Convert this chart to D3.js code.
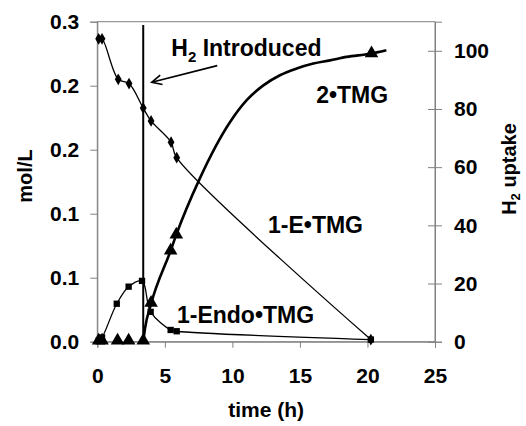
<!DOCTYPE html>
<html>
<head>
<meta charset="utf-8">
<script src="https://cdn.jsdelivr.net/npm/d3@7"></script>
<style>
  body { margin: 0; background: #fff; }
  text { font-family: "Liberation Sans", Arial, sans-serif; font-weight: bold; fill: #000; }
</style>
</head>
<body>
<svg id="chart" width="526" height="426"></svg>
<script>
// 1-E•TMG (diamonds, left axis)
const eTime = [0.1, 0.35, 1.55, 2.35, 3.4, 3.98, 5.46, 5.88, 20.25];
const eConc = [0.284, 0.284, 0.246, 0.242, 0.219, 0.207, 0.187, 0.1725, 0.002];

// 1-Endo•TMG (squares, left axis)
const endoTime = [0.1, 0.35, 1.44, 2.32, 3.31, 3.95, 5.43, 5.88, 20.25];
const endoConc = [0.001, 0.004, 0.0356, 0.0516, 0.057, 0.028, 0.011, 0.0098, 0.002];

// 2•TMG (triangles, right axis)
const tmgTime = [0.1, 0.35, 1.5, 2.32, 3.4, 3.98, 5.43, 5.85, 20.3];
const tmgUptake = [0, 0, 0, 0, 0, 13, 31, 36.5, 98.8];

// continuous H2 uptake trace (right axis)
const uptakeTime = [3.4, 3.55, 3.98, 5.43, 5.85, 7.55, 9.83, 11.06, 12.29, 13.52, 14.76, 15.99, 17.22, 18.46, 20.2, 21.4];
const uptakeVal = [0, 5, 13, 31.3, 36.8, 55.7, 75.5, 83, 88.1, 91.6, 93.9, 95.6, 96.7, 97.9, 99, 100.2];

const xTicks = [0, 5, 10, 15, 20, 25];
const yLeftTicks = [0, 0.06, 0.12, 0.18, 0.24, 0.3];
const yRightTicks = [0, 20, 40, 60, 80, 100];

const h2Time = 3.4;

const svg = d3.select('#chart');
const margin = { top: 21.7, right: 91, bottom: 84.3, left: 97.3 };
const W = 526, H = 426;

const x = d3.scaleLinear().domain([0, 25]).range([margin.left, W - margin.right]);
const yL = d3.scaleLinear().domain([0, 0.3]).range([H - margin.bottom, margin.top]);
const yR = d3.scaleLinear().domain([0, 110]).range([H - margin.bottom, margin.top]);

const grey = '#808080';

// frame
svg.append('rect')
  .attr('x', x(0)).attr('y', yL(0.3))
  .attr('width', x(25) - x(0)).attr('height', yL(0) - yL(0.3))
  .attr('fill', 'none').attr('stroke', grey).attr('stroke-width', 1);

function styleAxis(g) {
  g.select('.domain').attr('stroke', grey);
  g.selectAll('.tick line').attr('stroke', grey);
  g.selectAll('.tick text')
    .attr('font-size', 21)
    .attr('font-family', '"Liberation Sans", Arial, sans-serif')
    .attr('font-weight', 'bold')
    .attr('fill', '#000');
}

svg.append('g')
  .attr('transform', `translate(0,${yL(0)})`)
  .call(d3.axisBottom(x).tickValues(xTicks).tickSizeOuter(0).tickSize(6).tickPadding(20))
  .call(styleAxis);

svg.append('g')
  .attr('transform', `translate(${x(0)},0)`)
  .call(d3.axisLeft(yL).tickValues(yLeftTicks).tickFormat(d3.format('.1f')).tickSizeOuter(0).tickSize(7).tickPadding(11))
  .call(styleAxis);

const rAxis = svg.append('g')
  .attr('transform', `translate(${x(25)},0)`)
  .call(d3.axisRight(yR).tickValues(yRightTicks).tickSizeOuter(0).tickSize(7).tickPadding(12))
  .call(styleAxis);
rAxis.selectAll('.tick line').attr('x1', -7);

// axis titles
svg.append('text')
  .attr('x', (x(0) + x(25)) / 2 + 0).attr('y', 417)
  .attr('text-anchor', 'middle').attr('font-size', 21)
  .text('time (h)');

svg.append('text')
  .attr('transform', `translate(32,176) rotate(-90)`)
  .attr('text-anchor', 'middle').attr('font-size', 20)
  .text('mol/L');

const rt = svg.append('text')
  .attr('transform', `translate(516,169) rotate(-90)`)
  .attr('text-anchor', 'middle').attr('font-size', 20);
rt.append('tspan').text('H');
rt.append('tspan').attr('font-size', 13).attr('dy', 4).text('2');
rt.append('tspan').attr('dy', -4).text(' uptake');

// H2 introduced vertical line
svg.append('line')
  .attr('x1', x(h2Time)).attr('x2', x(h2Time))
  .attr('y1', yL(0)).attr('y2', yL(0.297))
  .attr('stroke', '#000').attr('stroke-width', 2);

// series lines
const smooth = d3.curveCatmullRom.alpha(0.5);

const lineE = d3.line().x(d => x(d[0])).y(d => yL(d[1])).curve(smooth);
svg.append('path')
  .datum(d3.zip(eTime, eConc))
  .attr('d', lineE).attr('fill', 'none').attr('stroke', '#000').attr('stroke-width', 1.3);

svg.append('path')
  .datum(d3.zip(endoTime, endoConc))
  .attr('d', lineE).attr('fill', 'none').attr('stroke', '#000').attr('stroke-width', 1.3);

const lineU = d3.line().x(d => x(d[0])).y(d => yR(d[1])).curve(d3.curveMonotoneX);
svg.append('path')
  .datum(d3.zip(uptakeTime, uptakeVal))
  .attr('d', lineU).attr('fill', 'none').attr('stroke', '#000').attr('stroke-width', 2.6);

// markers
const diamond = d3.symbol().type(d3.symbolDiamond).size(40);
svg.append('g').selectAll('path')
  .data(d3.zip(eTime, eConc)).join('path')
  .attr('d', diamond)
  .attr('transform', d => `translate(${x(d[0])},${yL(d[1])})`)
  .attr('fill', '#000');

const square = d3.symbol().type(d3.symbolSquare).size(40);
svg.append('g').selectAll('path')
  .data(d3.zip(endoTime, endoConc)).join('path')
  .attr('d', square)
  .attr('transform', d => `translate(${x(d[0])},${yL(d[1])})`)
  .attr('fill', '#000');

const tri = d3.symbol().type(d3.symbolTriangle).size(80);
svg.append('g').selectAll('path')
  .data(d3.zip(tmgTime, tmgUptake)).join('path')
  .attr('d', tri)
  .attr('transform', d => `translate(${x(d[0])},${yR(d[1]) - 1})`)
  .attr('fill', '#000');

// annotations
const ann = svg.append('text')
  .attr('x', x(5.48)).attr('y', yL(0.2683)).attr('font-size', 23);
ann.append('tspan').text('H');
ann.append('tspan').attr('font-size', 15).attr('dy', 6).text('2');
ann.append('tspan').attr('dy', -6).text(' Introduced');

// arrow
const ax0 = x(8.88), ay0 = yL(0.2588), ax1 = x(4.03), ay1 = yL(0.2432);
svg.append('line')
  .attr('x1', ax0).attr('y1', ay0).attr('x2', ax1).attr('y2', ay1)
  .attr('stroke', '#000').attr('stroke-width', 1.6);
const ang = Math.atan2(ay0 - ay1, ax0 - ax1);
const hl = 11, hw = 0.45;
svg.append('path')
  .attr('d', `M${ax1 + hl * Math.cos(ang - hw)},${ay1 + hl * Math.sin(ang - hw)}L${ax1},${ay1}L${ax1 + hl * Math.cos(ang + hw)},${ay1 + hl * Math.sin(ang + hw)}`)
  .attr('fill', 'none').attr('stroke', '#000').attr('stroke-width', 1.6);

svg.append('text').attr('x', x(16.2)).attr('y', yR(82)).attr('font-size', 23).text('2•TMG');
svg.append('text').attr('x', x(12.64)).attr('y', yR(37.2)).attr('font-size', 23).text('1-E•TMG');
svg.append('text').attr('x', x(5.9)).attr('y', yR(6.3)).attr('font-size', 23).text('1-Endo•TMG');
</script>
</body>
</html>
